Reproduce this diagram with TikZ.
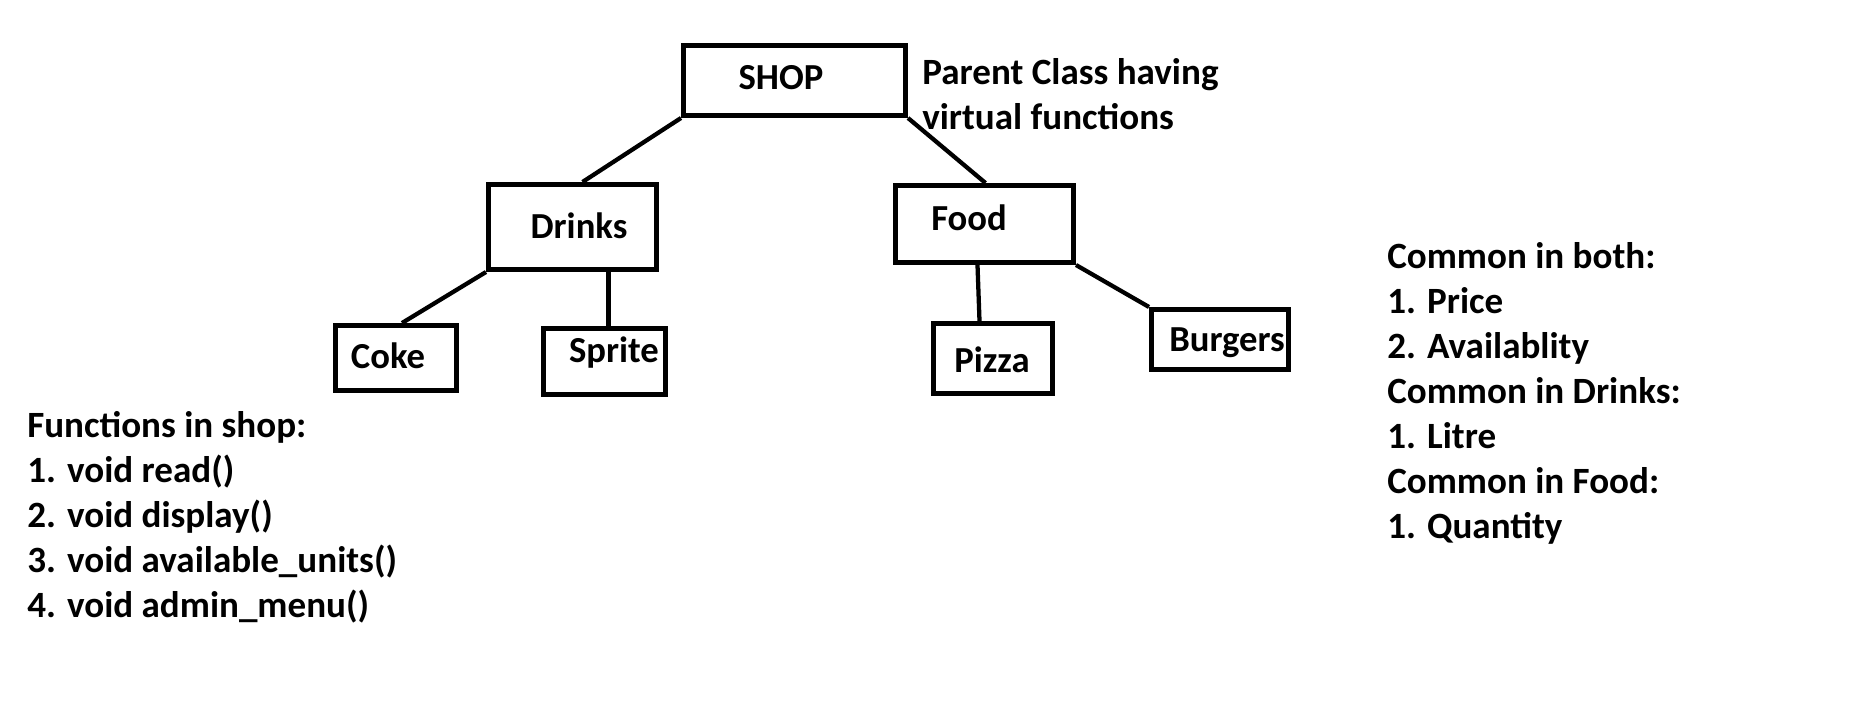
\documentclass[tikz,border=0pt]{standalone}
\usepackage{fontspec}
\setmainfont{Carlito}
\usetikzlibrary{calc}
\tikzset{
  box/.style={draw=black, line width=3.75pt, rectangle, inner sep=0pt, fill=none},
  lbl/.style={anchor=base, inner sep=0pt, font=\fontsize{27.5}{33}\selectfont\bfseries},
  txt/.style={anchor=base west, inner sep=0pt, font=\fontsize{27.8}{33}\selectfont\bfseries},
  link/.style={draw=black, line width=3.2pt}
}
\begin{document}
\begin{tikzpicture}[x=0.75pt,y=-0.75pt]
\useasboundingbox (0,0) rectangle (1876,703);
% boxes
\node[box, minimum width=166.5pt, minimum height=52.5pt] (shop) at (794.5,80.5) {};
\node[box, minimum width=126pt, minimum height=63.75pt] (drinks) at (572.5,227) {};
\node[box, minimum width=133.5pt, minimum height=57.75pt] (food) at (984.5,224) {};
\node[box, minimum width=90.75pt, minimum height=48.75pt] (coke) at (396,358) {};
\node[box, minimum width=91.5pt, minimum height=49.5pt] (sprite) at (604.5,361.5) {};
\node[box, minimum width=89.25pt, minimum height=52.5pt] (pizza) at (993,358.5) {};
\node[box, minimum width=102.75pt, minimum height=45pt] (burgers) at (1220,339.5) {};
% labels
\node[lbl] (shoplbl) at (781,89) {SHOP};
\node[lbl] (drinkslbl) at (579,238) {Drinks};
\node[lbl] (foodlbl) at (969,230) {Food};
\node[lbl] (cokelbl) at (388,368) {Coke};
\node[lbl] (spritelbl) at (614,362) {Sprite};
\node[lbl] (pizzalbl) at (992,372) {Pizza};
\node[lbl] (burgerslbl) at (1227,351) {Burgers};
% connectors
\draw[link] (shop.south west) -- ($(drinks.north)+(10,0)$);
\draw[link] (shop.south east) -- ($(food.north)+(1,0)$);
\draw[link] (drinks.south west) -- ($(coke.north)+(6,0)$);
\draw[link] ($(drinks.south)+(36,0)$) -- ($(sprite.north)+(4,0)$);
\draw[link] ($(food.south)+(-7,0)$) -- ($(pizza.north)+(-13.5,0)$);
\draw[link] (food.south east) -- (burgers.north west);
% side notes
\node[txt] (p1) at (922,84) {Parent Class having};
\node[txt] (p2) at (922,129) {virtual functions};
\node[txt] (f0) at (27,437) {Functions in shop:};
\node[txt] (f1) at (27,482) {1. void read()};
\node[txt] (f2) at (27,527) {2. void display()};
\node[txt] (f3) at (27,572) {3. void available\_units()};
\node[txt] (f4) at (27,617) {4. void admin\_menu()};
\node[txt] (c0) at (1387,268) {Common in both:};
\node[txt] (c1) at (1387,313) {1. Price};
\node[txt] (c2) at (1387,358) {2. Availablity};
\node[txt] (c3) at (1387,403) {Common in Drinks:};
\node[txt] (c4) at (1387,448) {1. Litre};
\node[txt] (c5) at (1387,493) {Common in Food:};
\node[txt] (c6) at (1387,538) {1. Quantity};
\end{tikzpicture}
\end{document}
